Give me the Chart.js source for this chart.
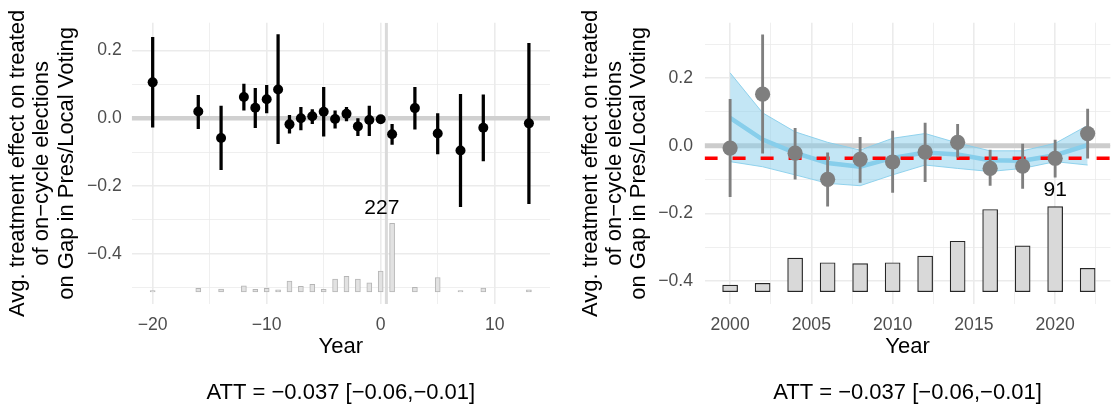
<!DOCTYPE html>
<html>
<head>
<meta charset="utf-8">
<script src="https://cdn.jsdelivr.net/npm/chart.js@4/dist/chart.umd.min.js"></script>
<style>
body { margin: 0; background: #fff; }
#wrap { display: flex; width: 1118px; height: 412px; }
canvas { display: block; }
</style>
</head>
<body>
<div id="wrap">
<canvas id="left" width="559" height="412"></canvas>
<canvas id="right" width="559" height="412"></canvas>
</div>
<script>
// left panel: effects by event time
const evYears = [-20, -16, -14, -12, -11, -10, -9, -8, -7, -6, -5, -4, -3, -2, -1, 0, 1, 3, 5, 7, 9, 13]
const evEst = [0.106, 0.020, -0.058, 0.063, 0.031, 0.056, 0.085, -0.018, 0.000, 0.006, 0.019, -0.002, 0.013, -0.024, -0.005, -0.003, -0.047, 0.030, -0.045, -0.095, -0.028, -0.015]
const evLo = [-0.026, -0.031, -0.152, 0.024, -0.028, 0.016, -0.075, -0.044, -0.034, -0.016, -0.053, -0.029, -0.008, -0.051, -0.051, -0.010, -0.077, -0.032, -0.105, -0.261, -0.126, -0.252]
const evHi = [0.239, 0.068, 0.036, 0.101, 0.088, 0.097, 0.247, 0.009, 0.032, 0.026, 0.091, 0.022, 0.032, -0.001, 0.036, 0.004, -0.018, 0.091, 0.014, 0.071, 0.069, 0.221]
const evCount = [5, 12, 10, 20, 9, 12, 7, 36, 19, 25, 9, 43, 52, 43, 30, 69, 227, 15, 48, 5, 13, 7]
const evXTicks = [-20, -15, -10, -5, 0, 5, 10]
const evXLabels = [-20, -10, 0, 10]
const evYTicks = [0.2, 0.1, 0, -0.1, -0.2, -0.3, -0.4, -0.5]
const evYLabels = [0.2, 0, -0.2, -0.4]
const evVline = 0.5

// right panel: effects by calendar year
const calYears = [2000, 2002, 2004, 2006, 2008, 2010, 2012, 2014, 2016, 2018, 2020, 2022]
const calEst = [-0.007, 0.152, -0.022, -0.099, -0.040, -0.048, -0.019, 0.010, -0.067, -0.060, -0.037, 0.036]
const calLo = [-0.150, -0.022, -0.099, -0.178, -0.108, -0.138, -0.106, -0.034, -0.117, -0.126, -0.093, -0.037]
const calHi = [0.137, 0.327, 0.051, -0.021, 0.025, 0.043, 0.067, 0.063, -0.013, 0.005, 0.017, 0.108]
const calBandHi = [0.215, 0.097, 0.041, 0.010, -0.013, 0.022, 0.036, 0.008, -0.015, -0.015, 0.007, 0.060]
const calFit = [0.082, 0.018, -0.021, -0.051, -0.062, -0.036, -0.020, -0.026, -0.043, -0.044, -0.028, 0.002]
const calBandLo = [-0.047, -0.062, -0.086, -0.111, -0.118, -0.086, -0.057, -0.067, -0.076, -0.067, -0.047, -0.057]
const calCount = [7, 9, 36, 31, 30, 31, 38, 54, 88, 49, 91, 25]
const calXTicks = [2000, 2002.5, 2005, 2007.5, 2010, 2012.5, 2015, 2017.5, 2020, 2022.5]
const calXLabels = [2000, 2005, 2010, 2015, 2020]
const calYTicks = [0.3, 0.2, 0.1, 0, -0.1, -0.2, -0.3, -0.4]
const calYLabels = [0.2, 0, -0.2, -0.4]

const att = -0.037
const attText = "ATT = \u22120.037 [\u22120.06,\u22120.01]"
const yTitle = ["Avg. treatment effect on treated", "of on\u2212cycle elections", "on Gap in Pres/Local Voting"]

const family = '"Liberation Sans", Arial, Helvetica, sans-serif'
const tickFont = {family: family, size: 17.6}

function isIn(list, v) {
    return list.some(function (l) { return Math.abs(l - v) < 1e-6 })
}

function minus(s) {
    return String(s).replace("-", "\u2212")
}

function fmtY(v) {
    if (Math.abs(v) < 1e-9) return "0.0"
    return minus(v.toFixed(1))
}

function fmtX(v) {
    return minus(Math.round(v))
}

function gridAxis(ticks, labels, fmt, pad, extra) {
    return Object.assign({
        type: "linear",
        offset: false,
        afterBuildTicks: function (s) { s.ticks = ticks.map(function (v) { return {value: v} }) },
        grid: {
            color: "#ebebeb",
            lineWidth: function (c) { return c.tick && isIn(labels, c.tick.value) ? 1.6 : 0.8 },
            drawTicks: false,
            offset: false
        },
        border: {display: false},
        ticks: {
            color: "#4d4d4d",
            font: tickFont,
            padding: pad,
            autoSkip: false,
            maxRotation: 0,
            callback: function (v) { return isIn(labels, v) ? fmt(v) : "" }
        }
    }, extra)
}

const countLabel = {
    id: "countLabel",
    afterDatasetsDraw: function (chart, args, opts) {
        let ctx = chart.ctx
        let x = chart.scales.x.getPixelForValue(opts.x)
        let y = chart.scales.yc.getPixelForValue(opts.n) - opts.lift
        ctx.save()
        ctx.font = "21px " + family
        ctx.fillStyle = "#000"
        ctx.textAlign = "center"
        ctx.textBaseline = "middle"
        ctx.fillText(String(opts.n), x, y)
        ctx.restore()
    }
}

function flatLine(x0, x1, y) {
    return [{x: x0, y: y}, {x: x1, y: y}]
}

function makePanel(canvas, p) {
    return new Chart(canvas, {
        type: "scatter",
        data: {datasets: p.datasets},
        options: {
            responsive: false,
            animation: false,
            devicePixelRatio: 1,
            layout: {padding: {top: 22.7, right: p.padRight, left: 0, bottom: 0}},
            plugins: {
                legend: {display: false},
                tooltip: {enabled: false},
                countLabel: p.label
            },
            scales: {
                x: gridAxis(p.xTicks, p.xLabels, fmtX, 11, {
                    min: p.xMin, max: p.xMax,
                    afterFit: function (s) { s.height = 108 },
                    title: {
                        display: true,
                        text: ["Year", "", attText],
                        color: "#000",
                        font: {family: family, size: 22, lineHeight: 1.05},
                        padding: {top: 0, bottom: 7.5}
                    }
                }),
                y: gridAxis(p.yTicks, p.yLabels, fmtY, p.yPad, {
                    min: p.yMin, max: p.yMax,
                    afterFit: function (s) { s.width = p.yWidth },
                    title: {
                        display: true,
                        text: yTitle,
                        color: "#000",
                        font: {family: family, size: 22, lineHeight: 1.1},
                        padding: {top: p.titlePad, bottom: 0}
                    }
                }),
                yc: {type: "linear", display: false, min: p.cMin, max: p.cMax}
            }
        },
        plugins: [countLabel]
    })
}

function renderEventPanel() {
    let xMin = -21.84, xMax = 14.85, yMin = -0.548, yMax = 0.282
    let datasets = [
        {type: "line", data: flatLine(xMin, xMax, 0), borderColor: "#d0d0d0", borderWidth: 4.5, pointRadius: 0, order: 10},
        {type: "line", data: [{x: evVline, y: yMin}, {x: evVline, y: yMax}], borderColor: "#dadada", borderWidth: 3, pointRadius: 0, order: 9},
        {type: "bar", yAxisID: "yc", grouped: false, barThickness: 5, borderSkipped: false,
            data: evYears.map(function (x, i) { return {x: x, y: evCount[i]} }),
            backgroundColor: "#e2e2e2", borderColor: "#b5b5b5", borderWidth: 1, order: 8},
        {type: "bar", grouped: false, barThickness: 2.6, borderSkipped: false, borderWidth: 0,
            data: evYears.map(function (x, i) { return {x: x, y: [evLo[i], evHi[i]]} }),
            backgroundColor: "#000", order: 2},
        {type: "scatter", data: evYears.map(function (x, i) { return {x: x, y: evEst[i]} }),
            pointRadius: 5, pointBorderWidth: 0, backgroundColor: "#000", order: 1}
    ]
    makePanel(document.getElementById("left"), {
        datasets: datasets, padRight: 9,
        xMin: xMin, xMax: xMax, yMin: yMin, yMax: yMax,
        xTicks: evXTicks, xLabels: evXLabels, yTicks: evYTicks, yLabels: evYLabels,
        yWidth: 131.7, yPad: 10, titlePad: 6, cMin: -39.7, cMax: 890,
        label: {x: 0.1, n: 227, lift: 15}
    })
}

function renderCalendarPanel() {
    let xMin = 1998.43, xMax = 2023.4, yMin = -0.467, yMax = 0.363
    let pts = function (arr) { return calYears.map(function (x, i) { return {x: x, y: arr[i]} }) }
    let datasets = [
        {type: "line", data: flatLine(xMin, xMax, 0), borderColor: "#cccccc", borderWidth: 5, pointRadius: 0, order: 10},
        {type: "bar", yAxisID: "yc", grouped: false, barThickness: 15, borderSkipped: false,
            data: pts(calCount), backgroundColor: "#d9d9d9", borderColor: "#262626", borderWidth: 1.2, order: 9},
        {type: "line", data: pts(calBandLo), borderColor: "rgba(135,206,235,0.9)", borderWidth: 1, pointRadius: 0, tension: 0, fill: false, order: 8},
        {type: "line", data: pts(calBandHi), borderColor: "rgba(135,206,235,0.9)", borderWidth: 1, pointRadius: 0, tension: 0,
            fill: "-1", backgroundColor: "rgba(135,206,235,0.5)", order: 8},
        {type: "line", data: pts(calFit), borderColor: "#87ceeb", borderWidth: 4.5, pointRadius: 0, tension: 0, order: 7},
        {type: "line", data: flatLine(xMin, xMax, att), borderColor: "#ff0000", borderWidth: 3.3, borderDash: [13, 15], pointRadius: 0, order: 6},
        {type: "bar", grouped: false, barThickness: 2.2, borderSkipped: false, borderWidth: 0,
            data: calYears.map(function (x, i) { return {x: x, y: [calLo[i], calHi[i]]} }),
            backgroundColor: "#7f7f7f", order: 2},
        {type: "scatter", data: pts(calEst), pointRadius: 7.6, pointBorderWidth: 0, backgroundColor: "#7f7f7f", order: 1}
    ]
    makePanel(document.getElementById("right"), {
        datasets: datasets, padRight: 0,
        xMin: xMin, xMax: xMax, yMin: yMin, yMax: yMax,
        xTicks: calXTicks, xLabels: calXLabels, yTicks: calYTicks, yLabels: calYLabels,
        yWidth: 145.6, yPad: 11.6, titlePad: 19.6, cMin: -13.2, cMax: 288,
        label: {x: 2020, n: 91, lift: 16.5}
    })
}

renderEventPanel()
renderCalendarPanel()
</script>
</body>
</html>
